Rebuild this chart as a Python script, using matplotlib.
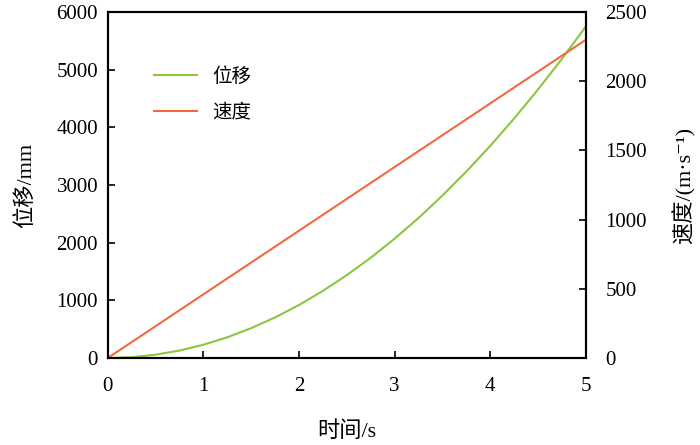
import matplotlib
matplotlib.use("Agg")
import matplotlib.pyplot as plt

plt.rcParams['font.family'] = ['Liberation Serif', 'Noto Sans CJK SC', 'DejaVu Serif']
plt.rcParams['axes.unicode_minus'] = False

# time in s
t = [0, 0.25, 0.5, 0.75, 1.0, 1.25, 1.5, 1.75, 2.0, 2.25, 2.5,
     2.75, 3.0, 3.25, 3.5, 3.75, 4.0, 4.25, 4.5, 4.75, 5.0]
# displacement in mm (left axis)
disp = [0, 14, 58, 129, 230, 359, 518, 704, 920, 1164, 1438,
        1739, 2070, 2429, 2818, 3234, 3680, 4154, 4658, 5190, 5750]
# velocity in m/s (right axis)
vel = [0, 115, 230, 345, 460, 575, 690, 805, 920, 1035, 1150,
       1265, 1380, 1495, 1610, 1725, 1840, 1955, 2070, 2185, 2300]

green = '#8cc540'
orange = '#f26a3b'

fig = plt.figure(figsize=(7, 4.45), dpi=100)
ax = fig.add_axes([0.154, 0.1955, 0.683, 0.7775])
ax2 = ax.twinx()

l1, = ax.plot(t, disp, color=green, lw=1.5, label='位移')
l2, = ax2.plot(t, vel, color=orange, lw=1.5, label='速度')

ax.set_xlim(0, 5)
ax.set_ylim(0, 6000)
ax2.set_ylim(0, 2500)
ax.set_xticks([0, 1, 2, 3, 4, 5])
ax.set_yticks(range(0, 6001, 1000))
ax2.set_yticks(range(0, 2501, 500))

for a in (ax, ax2):
    a.tick_params(direction='in', labelsize=15, width=1.2, length=5, pad=7)
    for s in a.spines.values():
        s.set_linewidth(1.5)
ax.tick_params(axis='x', pad=14)
ax2.tick_params(axis='y', pad=14)

ax.set_xlabel('时间/s', fontsize=16, labelpad=18)
ax.set_ylabel('位移/mm', fontsize=16, labelpad=15)
ax2.set_ylabel('速度/(m·s⁻¹)', fontsize=16, labelpad=18)

ax.legend([l1, l2], ['位移', '速度'], loc='upper left', bbox_to_anchor=(0.06, 0.89),
          frameon=False, fontsize=14, handlelength=2.2, labelspacing=0.9)

fig.savefig('out.png', dpi=100)
